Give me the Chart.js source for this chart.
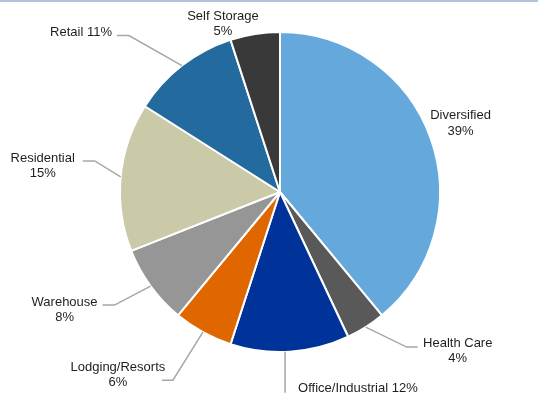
<!DOCTYPE html>
<html>
<head>
<meta charset="utf-8">
<script src="https://cdn.jsdelivr.net/npm/chart.js@4"></script>
<style>
    html, body { margin: 0; padding: 0; background: #fff; }
    #graficoSetores { display: block; }
</style>
</head>
<body>
<canvas id="graficoSetores" width="538" height="401"></canvas>
<script>
// Sector allocation data (clockwise from 12 o'clock)
const sectors = ["Diversified", "Health Care", "Office/Industrial", "Lodging/Resorts",
                 "Warehouse", "Residential", "Retail", "Self Storage"];
const shares = [39, 4, 12, 6, 8, 15, 11, 5];
const sectorColors = ["#65a8dc", "#595959", "#003399", "#e06600",
                      "#969696", "#cbcaa8", "#236a9e", "#393939"];

// Label placement per slice, relative to the point on the rim at the slice middle.
// line: leader polyline, text: first text line position, align: text alignment
const labelLayout = [
    { line: null, text: [30, -22], align: "center", split: true },
    { line: [[0, 0], [41, 20], [52, 20]], text: [92, 16], align: "center", split: true },
    { line: [[-5, 0], [-5, 41]], text: [8, 37], align: "left", split: false },
    { line: [[0, 0], [-30, 48], [-41, 48]], text: [-85, 35], align: "center", split: true },
    { line: [[0, 0], [-36, 19], [-48, 19]], text: [-86, 16], align: "center", split: true },
    { line: [[0, 0], [-26, -16], [-38, -16]], text: [-78, -19], align: "center", split: true },
    { line: [[0, 0], [-53, -30], [-65, -30]], text: [-70, -33], align: "right", split: false },
    { line: null, text: [-32, -18], align: "center", split: true }
];

// Labels with leader lines, plus the thin rule along the top edge
const sectorLabels = {
    id: "sectorLabels",
    afterDraw(chart) {
        const ctx = chart.ctx;
        const arcs = chart.getDatasetMeta(0).data;
        ctx.save();
        ctx.fillStyle = "#b3c5d8";
        ctx.fillRect(0, 0, chart.width, 2);

        ctx.font = "13px 'Liberation Sans', Arial, sans-serif";
        ctx.textBaseline = "middle";
        arcs.forEach((arc, i) => {
            const p = arc.getProps(["x", "y", "startAngle", "endAngle", "outerRadius"], true);
            const mid = (p.startAngle + p.endAngle) / 2;
            const ax = p.x + Math.cos(mid) * p.outerRadius;
            const ay = p.y + Math.sin(mid) * p.outerRadius;
            const lay = labelLayout[i];

            if (lay.line) {
                ctx.strokeStyle = "#a6a6a6";
                ctx.lineWidth = 1.5;
                ctx.beginPath();
                lay.line.forEach(([dx, dy], k) => {
                    if (k === 0) ctx.moveTo(ax + dx, ay + dy);
                    else ctx.lineTo(ax + dx, ay + dy);
                });
                ctx.stroke();
            }

            const pct = shares[i] + "%";
            const lines = lay.split ? [sectors[i], pct] : [sectors[i] + " " + pct];
            ctx.fillStyle = "#1e1e1e";
            ctx.textAlign = lay.align;
            lines.forEach((t, k) => {
                ctx.fillText(t, ax + lay.text[0], ay + lay.text[1] + k * 15.5);
            });
        });
        ctx.restore();
    }
};

document.addEventListener("DOMContentLoaded", () => {
    if (document.getElementById("graficoSetores")) {
        criarGraficoSetores();
    }
});

function criarGraficoSetores() {
    const ctx = document.getElementById("graficoSetores").getContext("2d");
    new Chart(ctx, {
        type: "pie",
        data: {
            labels: sectors,
            datasets: [{
                data: shares,
                backgroundColor: sectorColors,
                borderColor: "#ffffff",
                borderWidth: 2
            }]
        },
        options: {
            responsive: false,
            animation: false,
            rotation: 0,
            layout: {
                padding: { top: 31, bottom: 48, left: 119, right: 97 }
            },
            plugins: {
                legend: { display: false },
                tooltip: { enabled: false }
            }
        },
        plugins: [sectorLabels]
    });
}
</script>
</body>
</html>
